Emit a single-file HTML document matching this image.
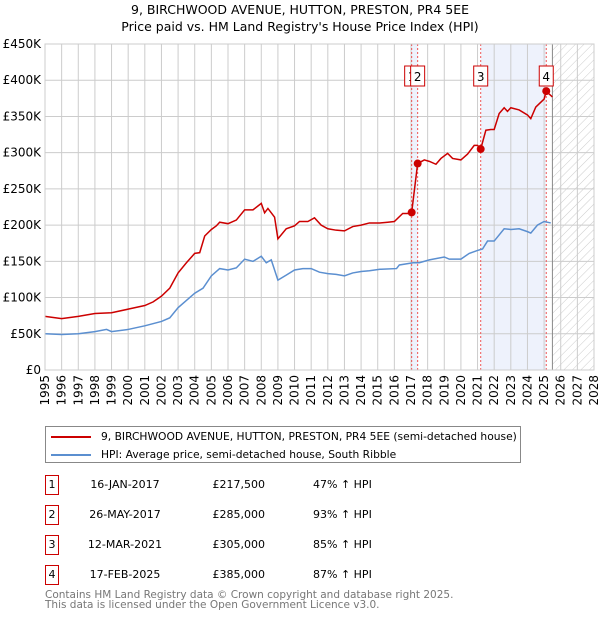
<!DOCTYPE html>
<html><head><meta charset="utf-8"><style>
body{margin:0;background:#fff;font-family:"DejaVu Sans","Liberation Sans",sans-serif;}
#wrap{position:relative;width:600px;height:620px;overflow:hidden;}
</style></head><body>
<div id="wrap">
<svg id="chart" width="600" height="620" style="position:absolute;left:0;top:0;font-family:'DejaVu Sans',sans-serif">
<defs><pattern id="hatch" width="6" height="6" patternUnits="userSpaceOnUse" patternTransform="rotate(45)"><line x1="0" y1="0" x2="0" y2="6" stroke="#ccc" stroke-width="1"/></pattern></defs>
<text x="300" y="14" text-anchor="middle" font-size="12.5" fill="#000">9, BIRCHWOOD AVENUE, HUTTON, PRESTON, PR4 5EE</text>
<text x="300" y="31" text-anchor="middle" font-size="12.5" fill="#000">Price paid vs. HM Land Registry's House Price Index (HPI)</text>
<g id="plot"></g>
</svg>
<div style="position:absolute;left:45px;top:426px;width:474px;height:35px;border:1px solid #888;font-size:10.7px;">
 <div style="position:absolute;left:5px;top:9px;width:40px;height:2px;background:#cc0000"></div>
 <div style="position:absolute;left:55px;top:3px;white-space:nowrap">9, BIRCHWOOD AVENUE, HUTTON, PRESTON, PR4 5EE (semi-detached house)</div>
 <div style="position:absolute;left:5px;top:27px;width:40px;height:2px;background:#5b8fd0"></div>
 <div style="position:absolute;left:55px;top:21px;white-space:nowrap">HPI: Average price, semi-detached house, South Ribble</div>
</div>
<div id="table" style="font-size:11px"></div>
<div style="position:absolute;left:45px;top:590px;font-size:10.5px;color:#777;line-height:10px">Contains HM Land Registry data © Crown copyright and database right 2025.<br>This data is licensed under the Open Government Licence v3.0.</div>
</div>
<script>
const yearTicks=[1995,1996,1997,1998,1999,2000,2001,2002,2003,2004,2005,2006,2007,2008,2009,2010,2011,2012,2013,2014,2015,2016,2017,2018,2019,2020,2021,2022,2023,2024,2025,2026,2027,2028];
const valueTicks=[0,50,100,150,200,250,300,350,400,450];
const valueLabels=["£0","£50K","£100K","£150K","£200K","£250K","£300K","£350K","£400K","£450K"];
const hpiYears=[1995,1996,1997,1998,1998.7,1999,2000,2001,2002,2002.5,2003,2004,2004.5,2005,2005.5,2006,2006.5,2007,2007.5,2008,2008.3,2008.6,2009,2009.5,2010,2010.5,2011,2011.5,2012,2012.5,2013,2013.5,2014,2014.5,2015.13,2016.13,2016.3,2017.13,2017.5,2018.1,2019,2019.3,2020,2020.5,2021,2021.3,2021.6,2022,2022.6,2023,2023.5,2024,2024.2,2024.6,2025,2025.4];
const hpiValues=[50,49,50,53,56,53,56,61,67,72,86,106,113,130,140,138,141,153,150,157,148,152,124,131,138,140,140,135,133,132,130,134,136,137,139,140,145,148,148,152,156,153,153,161,165,167,178,178,195,194,195,191,189,200,205,203];
const priceYears=[1995,1996,1997,1998,1999,2000,2001,2001.5,2002,2002.5,2003,2003.5,2004,2004.3,2004.6,2005,2005.3,2005.5,2006,2006.5,2007,2007.5,2008,2008.2,2008.4,2008.8,2009,2009.5,2010,2010.3,2010.8,2011.2,2011.6,2012,2012.5,2013,2013.5,2014,2014.5,2015.13,2015.6,2016,2016.5,2016.8,2017.04,2017.4,2017.8,2018.1,2018.5,2018.8,2019.2,2019.5,2020,2020.4,2020.8,2021.0,2021.19,2021.5,2021.8,2022,2022.3,2022.6,2022.8,2023,2023.5,2024,2024.2,2024.5,2025,2025.13,2025.3,2025.5];
const priceValues=[74,71,74,78,79,84,89,94,102,113,134,148,161,162,185,194,199,204,202,207,221,221,230,217,223,211,181,195,199,205,205,210,200,195,193,192,198,200,203,203,204,205,216,216,217.5,285,290,288,284,292,299,292,290,298,310,310,305,331,332,332,354,362,357,362,359,352,347,363,374,385,381,377];
const saleLabels=["1","2","3","4"];
const saleYears=[2017.04,2017.4,2021.19,2025.13];
const saleValues=[217.5,285,305,385];
const saleDates=["16-JAN-2017","26-MAY-2017","12-MAR-2021","17-FEB-2025"];
const salePrices=["£217,500","£285,000","£305,000","£385,000"];
const saleHpi=["47% ↑ HPI","93% ↑ HPI","85% ↑ HPI","87% ↑ HPI"];

const X0=45,X1=594,Y0=370,Y1=44;
const xs=y=>X0+(y-1995)/(2028-1995)*(X1-X0);
const ys=v=>Y0-v/450*(Y0-Y1);
const NS="http://www.w3.org/2000/svg";
const g=document.getElementById('plot');
function mk(t,a,p){const e=document.createElementNS(NS,t);for(const k in a)e.setAttribute(k,a[k]);(p||g).appendChild(e);return e;}

let e;
e=mk('rect',{x:xs(saleYears[2]),y:Y1,width:xs(saleYears[3])-xs(saleYears[2]),height:Y0-Y1,fill:'#eef2fc'});


e=mk('rect',{x:xs(saleYears[0]),y:Y1,width:xs(saleYears[1])-xs(saleYears[0]),height:Y0-Y1,fill:'#eef2fc'});


e=mk('rect',{x:xs(2025.5),y:Y1,width:X1-xs(2025.5),height:Y0-Y1,fill:'url(#hatch)'});


yearTicks.forEach(yr=>{
  const x=xs(yr);
  e=mk('line',{x1:x,x2:x,y1:Y1,y2:Y0,stroke:'#ccc','stroke-width':1});
  
  
  e=mk('text',{x:0,y:0,'font-size':12,fill:'#000','text-anchor':'end',transform:`translate(${x+4},${Y0+5}) rotate(-90)`});
  e.textContent=yr;
  
  
});
valueTicks.forEach((v,i)=>{
  const y=ys(v);
  e=mk('line',{x1:X0,x2:X1,y1:y,y2:y,stroke:'#ccc','stroke-width':1});
  
  
  e=mk('text',{x:X0-4,y:y+4,'font-size':12,fill:'#000','text-anchor':'end'});
  e.textContent=valueLabels[i];
  
  
});
e=mk('line',{x1:xs(2025.5),x2:xs(2025.5),y1:Y1,y2:Y0,stroke:'#888','stroke-width':1});


saleYears.forEach((yr,i)=>{
  e=mk('line',{x1:xs(yr),x2:xs(yr),y1:Y1,y2:Y0,stroke:'#e55','stroke-width':1,'stroke-dasharray':'2,2'});
  
  
});
e=mk('polyline',{points:hpiYears.map((y,i)=>xs(y)+','+ys(hpiValues[i])).join(' '),fill:'none',stroke:'#5b8fd0','stroke-width':1.5});


e=mk('polyline',{points:priceYears.map((y,i)=>xs(y)+','+ys(priceValues[i])).join(' '),fill:'none',stroke:'#cc0000','stroke-width':1.5});


saleYears.forEach((yr,i)=>{
  e=mk('circle',{cx:xs(yr),cy:ys(saleValues[i]),r:4,fill:'#cc0000'});
  
  
  const bx=xs(yr)-7;
  e=mk('rect',{x:bx,y:66,width:14,height:20,fill:'#fff',stroke:'#cc0000','stroke-width':1});
  
  
  e=mk('text',{x:xs(yr),y:81,'font-size':12,'text-anchor':'middle',fill:'#000'});
  e.textContent=saleLabels[i];
  
  
});
e=mk('rect',{x:X0,y:Y1,width:X1-X0,height:Y0-Y1,fill:'none',stroke:'#ccc','stroke-width':1});



const tb=document.getElementById('table');
const rowY=[475,505,535,565];
saleLabels.forEach((l,i)=>{
  const r=document.createElement('div');
  
  
  r.style.cssText=`position:absolute;left:0;top:${rowY[i]}px;width:600px;height:20px;`;
  r.innerHTML=`<div style="position:absolute;left:45px;top:0;width:12px;height:18px;border:1px solid #cc0000;text-align:center;line-height:18px">${l}</div>`+
  `<div style="position:absolute;left:70px;top:0;width:110px;text-align:center;line-height:20px">${saleDates[i]}</div>`+
  `<div style="position:absolute;left:195px;top:0;width:70px;text-align:right;line-height:20px">${salePrices[i]}</div>`+
  `<div style="position:absolute;left:313px;top:0;line-height:20px">${saleHpi[i]}</div>`;
  tb.appendChild(r);
});
</script>
</body></html>
